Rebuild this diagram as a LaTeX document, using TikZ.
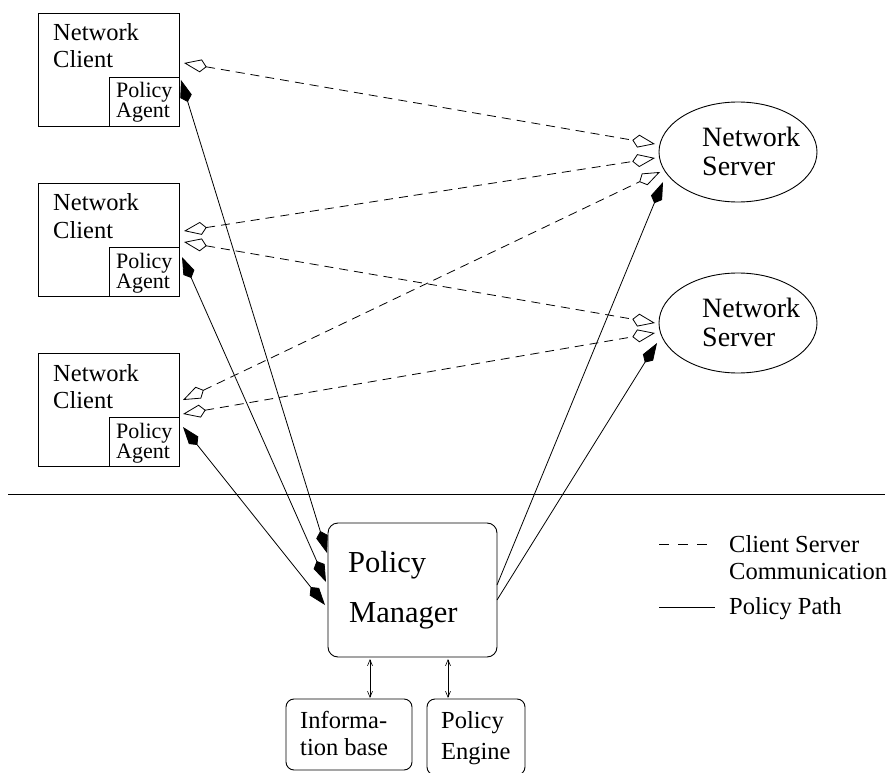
\documentclass[tikz,border=0pt]{standalone}
\usepackage{fontspec}
\setmainfont{Liberation Serif}
\usetikzlibrary{arrows.meta,shapes.geometric}

\tikzset{
  box/.style={draw, line width=0.9pt, inner sep=0pt, outer sep=0pt, anchor=north west},
  rbox/.style={box, rounded corners=10pt},
  sbox/.style={box, rounded corners=8pt},
  srv/.style={draw, ellipse, line width=0.9pt, minimum width=158pt, minimum height=100pt, inner sep=0pt, outer sep=0pt},
  lbl/.style={anchor=base west, inner sep=0pt, font=\fontsize{24.5}{27}\selectfont},
  albl/.style={lbl, font=\fontsize{22}{24}\selectfont},
  slbl/.style={lbl, font=\fontsize{28}{30}\selectfont},
  mlbl/.style={lbl, font=\fontsize{30.5}{33}\selectfont},
  kopen/.tip={Kite[open, length=23pt, width=13pt, inset=6pt]},
  kfill/.tip={Kite[length=23pt, width=12pt, inset=6pt]},
  comm/.style={line width=0.8pt, dash pattern=on 9pt off 6pt, kopen-kopen},
  pol/.style={line width=0.8pt},
  dbl/.style={line width=0.6pt, {Straight Barb[length=6pt, width=5pt]}-{Straight Barb[length=6pt, width=5pt]}},
}

\begin{document}
\begin{tikzpicture}[x=1pt, y=-1pt]
\useasboundingbox (0,0) rectangle (895,773);

% network clients, each with its policy agent
\foreach \i/\dy in {1/0, 2/170, 3/340} {
  \node[box, minimum width=141pt, minimum height=113pt] (c\i) at (38,13+\dy) {};
  \node[box, minimum width=70pt, minimum height=49pt] (a\i) at (109,77+\dy) {};
  \node[lbl] (c\i n) at (53,41+\dy) {Network};
  \node[lbl] (c\i c) at (53,68+\dy) {Client};
  \node[albl] (a\i p) at (116,98+\dy) {Policy};
  \node[albl] (a\i a) at (116,118+\dy) {Agent};
}

% network servers
\node[srv] (s1) at (738,152) {};
\node[slbl] (s1n) at (702,147) {Network};
\node[slbl] (s1s) at (702,176) {Server};
\node[srv] (s2) at (738,323) {};
\node[slbl] (s2n) at (702,317) {Network};
\node[slbl] (s2s) at (702,346) {Server};

% divider
\coordinate (dl) at (8,494);
\coordinate (dr) at (885,494);
\draw[line width=0.9pt] (dl) -- (dr);

% policy manager and its back ends
\node[rbox, minimum width=169pt, minimum height=134pt] (pm) at (328,523) {};
\node[mlbl] (pm1) at (348,572) {Policy};
\node[mlbl] (pm2) at (349,622) {Manager};

\node[sbox, minimum width=126pt, minimum height=71pt] (ib) at (286,699) {};
\node[lbl] (ib1) at (300,728) {Informa-};
\node[lbl] (ib2) at (300,755) {tion base};
\node[sbox, minimum width=98pt, minimum height=76pt] (pe) at (427,699) {};
\node[lbl] (pe1) at (441,728) {Policy};
\node[lbl] (pe2) at (441,759) {Engine};

\draw[dbl] ([shift={(42,2)}]pm.south west) -- ([shift={(84,-1)}]ib.north west);
\draw[dbl] ([shift={(120,2)}]pm.south west) -- ([shift={(21,-1)}]pe.north west);

% client-server communication
\draw[comm] ([shift={(5,50)}]c1.north east) -- ([shift={(-83,-8)}]s1.center);
\draw[comm] ([shift={(5,48)}]c2.north east) -- ([shift={(-83,6)}]s1.center);
\draw[comm] ([shift={(5,59)}]c2.north east) -- ([shift={(-83,0)}]s2.center);
\draw[comm] ([shift={(4,47)}]c3.north east) -- ([shift={(-78,20)}]s1.center);
\draw[comm] ([shift={(4,61)}]c3.north east) -- ([shift={(-83,10)}]s2.center);

% policy paths
\draw[pol, kfill-kfill] ([shift={(2,3)}]a1.north east) -- ([shift={(-1,30)}]pm.north west);
\draw[pol, kfill-kfill] ([shift={(3,10)}]a2.north east) -- ([shift={(-2,59)}]pm.north west);
\draw[pol, kfill-kfill] ([shift={(4,10)}]a3.north east) -- ([shift={(-3,82)}]pm.north west);
\draw[pol, -kfill] ([shift={(0,62)}]pm.north east) -- ([shift={(-75,30)}]s1.center);
\draw[pol, -kfill] ([shift={(0,77)}]pm.north east) -- ([shift={(-81,20)}]s2.center);

% legend
\coordinate (l1a) at (659,544);
\coordinate (l1b) at (707,544);
\coordinate (l2a) at (659,607);
\coordinate (l2b) at (715,607);
\draw[line width=0.8pt, dash pattern=on 10pt off 9pt] (l1a) -- (l1b);
\draw[pol] (l2a) -- (l2b);
\node[lbl] (lg1) at (729,552) {Client Server};
\node[lbl] (lg2) at (729,579) {Communication};
\node[lbl] (lg3) at (729,614) {Policy Path};
\end{tikzpicture}
\end{document}
